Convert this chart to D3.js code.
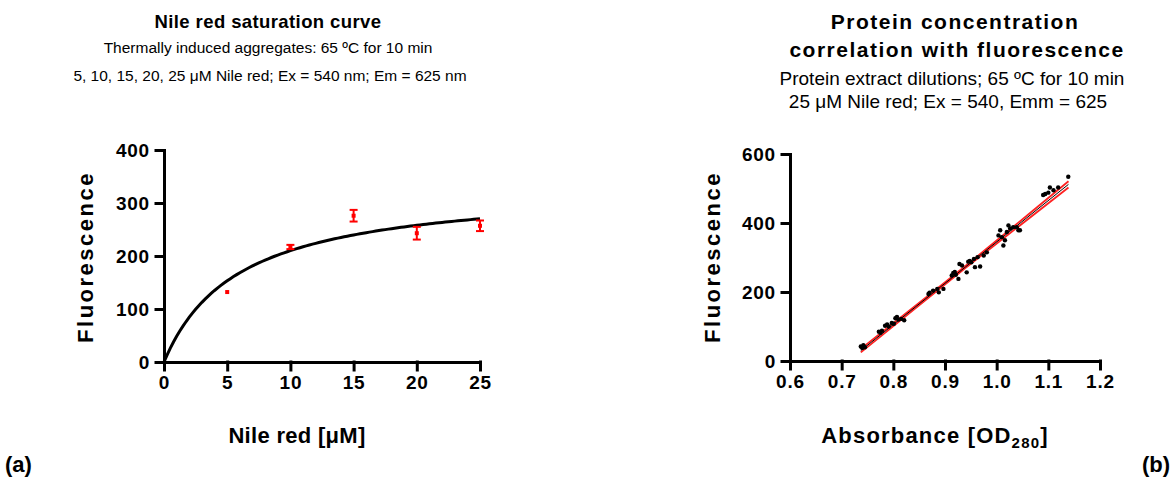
<!DOCTYPE html>
<html>
<head>
<meta charset="utf-8">
<script src="https://cdn.jsdelivr.net/npm/d3@7"></script>
<style>
  body { margin: 0; background: #fff; }
  svg { display: block; font-family: "Liberation Sans", Arial, sans-serif; }
  .axis path, .axis line { stroke: #000; stroke-width: 3; stroke-linecap: square; }
  .axis text { font-size: 19px; font-weight: bold; fill: #000; letter-spacing: 0.8px; }
  .title { font-weight: bold; text-anchor: middle; }
  .sub { text-anchor: middle; }
  .axlabel { font-size: 22px; font-weight: bold; letter-spacing: 2.5px; text-anchor: middle; }
  .xlabel { letter-spacing: 1.2px; }
  .panel { font-size: 22px; font-weight: bold; }
</style>
</head>
<body>
<svg id="chart" width="1175" height="481"></svg>
<script>
// (a) Nile red saturation
const nileConc = [5, 10, 15, 20, 25];
const nileMean = [132, 217, 276, 243, 257];
const nileErr = [2, 4, 11, 12, 10];
// one-site binding fit: Y = Bmax*X/(Kd+X)
const fitBmax = 334;
const fitKd = 5.9;
const nileTicksX = [0, 5, 10, 15, 20, 25];
const nileTicksY = [0, 100, 200, 300, 400];

// (b) absorbance vs fluorescence
const absorbance = [0.737, 0.740, 0.742, 0.745, 0.772, 0.775, 0.778, 0.784, 0.788, 0.791,
  0.797, 0.801, 0.804, 0.807, 0.810, 0.815, 0.821, 0.868, 0.870, 0.877,
  0.885, 0.888, 0.897, 0.913, 0.916, 0.919, 0.921, 0.926, 0.928, 0.933,
  0.942, 0.945, 0.948, 0.951, 0.956, 0.958, 0.968, 0.963, 0.975, 0.981,
  1.0035, 1.0068, 1.010, 1.013, 1.016, 1.0197, 1.0228, 1.026, 1.032, 1.039,
  1.042, 1.045, 1.090, 1.094, 1.100, 1.103, 1.110, 1.119, 1.1386];
const fluorescence = [42, 38, 46, 40, 85, 82, 88, 102, 106, 100,
  110, 108, 124, 128, 120, 122, 118, 194, 198, 204,
  209, 199, 209, 248, 255, 258, 250, 238, 281, 277,
  257, 288, 290, 286, 296, 272, 274, 301, 306, 315,
  364, 379, 359, 335, 350, 374, 393, 384, 388, 388,
  379, 379, 481, 484, 488, 503, 495, 503, 534];
// regression line and 95% band
const fitX = [0.737, 0.94, 1.139];
const fitY = [30, 273, 512];
const bandUpper = [35, 276, 521];
const bandLower = [25, 270, 503];
const absTicksX = [0.6, 0.7, 0.8, 0.9, 1.0, 1.1, 1.2];
const absTicksY = [0, 200, 400, 600];

const svg = d3.select('#chart');

function drawAxes(g, x, y, xt, yt, xfmt) {
  g.append('g').attr('class', 'axis')
    .attr('transform', `translate(0,${y.range()[0]})`)
    .call(d3.axisBottom(x).tickValues(xt).tickSize(8).tickSizeOuter(0).tickPadding(6).tickFormat(xfmt))
    .call(a => a.selectAll('.tick line').attr('stroke-linecap', 'butt'));
  g.append('g').attr('class', 'axis')
    .attr('transform', `translate(${x.range()[0]},0)`)
    .call(d3.axisLeft(y).tickValues(yt).tickSize(8).tickSizeOuter(0).tickPadding(6))
    .call(a => a.selectAll('.tick line').attr('stroke-linecap', 'butt'));
}

// ---------- panel (a)
const xa = d3.scaleLinear().domain([0, 25]).range([164, 480]);
const ya = d3.scaleLinear().domain([0, 400]).range([362, 150]);
const ga = svg.append('g');

ga.append('text').attr('class', 'title').attr('x', 268).attr('y', 28)
  .style('font-size', '18.5px').style('letter-spacing', '0.4px').text('Nile red saturation curve');
ga.append('text').attr('class', 'sub').attr('x', 268).attr('y', 53)
  .style('font-size', '15.5px').text('Thermally induced aggregates: 65 ºC for 10 min');
ga.append('text').attr('class', 'sub').attr('x', 270).attr('y', 81)
  .style('font-size', '15.5px').text('5, 10, 15, 20, 25 μM Nile red; Ex = 540 nm; Em = 625 nm');

const curveX = d3.range(0, 25.01, 0.25);
ga.append('path')
  .datum(curveX)
  .attr('fill', 'none').attr('stroke', '#000').attr('stroke-width', 3)
  .attr('d', d3.line().x(d => xa(d)).y(d => ya(fitBmax * d / (fitKd + d))));

const errG = ga.append('g').attr('stroke', '#f00').attr('stroke-width', 2);
nileConc.forEach((c, i) => {
  const cx = xa(c), lo = ya(nileMean[i] - nileErr[i]), hi = ya(nileMean[i] + nileErr[i]);
  if (nileErr[i] > 3) {
    errG.append('line').attr('x1', cx).attr('x2', cx).attr('y1', lo).attr('y2', hi);
    errG.append('line').attr('x1', cx - 4).attr('x2', cx + 4).attr('y1', lo).attr('y2', lo);
    errG.append('line').attr('x1', cx - 4).attr('x2', cx + 4).attr('y1', hi).attr('y2', hi);
  }
});
ga.selectAll('.pt').data(nileConc).join('rect')
  .attr('x', d => xa(d) - 2).attr('y', (d, i) => ya(nileMean[i]) - 2)
  .attr('width', 4).attr('height', 4).attr('fill', '#f00');

drawAxes(ga, xa, ya, nileTicksX, nileTicksY, d3.format('d'));

ga.append('text').attr('class', 'axlabel')
  .attr('transform', 'translate(93,257) rotate(-90)').text('Fluorescence');
ga.append('text').attr('class', 'axlabel').attr('x', 297).attr('y', 443)
  .style('letter-spacing', '0.3px').text('Nile red [μM]');
ga.append('text').attr('class', 'panel').attr('x', 5).attr('y', 472).text('(a)');

// ---------- panel (b)
const xb = d3.scaleLinear().domain([0.6, 1.2]).range([790, 1100]);
const yb = d3.scaleLinear().domain([0, 600]).range([361, 154]);
const gb = svg.append('g');

gb.append('text').attr('class', 'title').attr('x', 955).attr('y', 29)
  .style('font-size', '21px').style('letter-spacing', '1.5px').text('Protein concentration');
gb.append('text').attr('class', 'title').attr('x', 957).attr('y', 57)
  .style('font-size', '21px').style('letter-spacing', '1.5px').text('correlation with fluorescence');
gb.append('text').attr('class', 'sub').attr('x', 952).attr('y', 85)
  .style('font-size', '19px').text('Protein extract dilutions; 65 ºC for 10 min');
gb.append('text').attr('class', 'sub').attr('x', 948).attr('y', 108)
  .style('font-size', '19px').text('25 μM Nile red; Ex = 540, Emm = 625');

const lineB = d3.line().x(d => xb(d[0])).y(d => yb(d[1]));
[bandUpper, bandLower].forEach(b => {
  gb.append('path').datum(d3.zip(fitX, b))
    .attr('fill', 'none').attr('stroke', '#f22').attr('stroke-width', 1.8)
    .attr('d', d3.line().curve(d3.curveMonotoneX).x(d => xb(d[0])).y(d => yb(d[1])));
});
gb.append('path').datum(d3.zip(fitX, fitY))
  .attr('fill', 'none').attr('stroke', '#000').attr('stroke-width', 1)
  .attr('d', lineB);

gb.selectAll('.dot').data(d3.zip(absorbance, fluorescence)).join('circle')
  .attr('cx', d => xb(d[0])).attr('cy', d => yb(d[1])).attr('r', 2.2).attr('fill', '#000');

drawAxes(gb, xb, yb, absTicksX, absTicksY, d3.format('.1f'));

gb.append('text').attr('class', 'axlabel')
  .attr('transform', 'translate(720,257) rotate(-90)').text('Fluorescence');
const xl = gb.append('text').attr('class', 'axlabel xlabel').attr('x', 935).attr('y', 443);
xl.append('tspan').text('Absorbance [OD');
xl.append('tspan').attr('font-size', '15px').attr('dy', 5).text('280');
xl.append('tspan').attr('dy', -5).text(']');
gb.append('text').attr('class', 'panel').attr('x', 1170).attr('y', 472)
  .attr('text-anchor', 'end').text('(b)');
</script>
</body>
</html>
